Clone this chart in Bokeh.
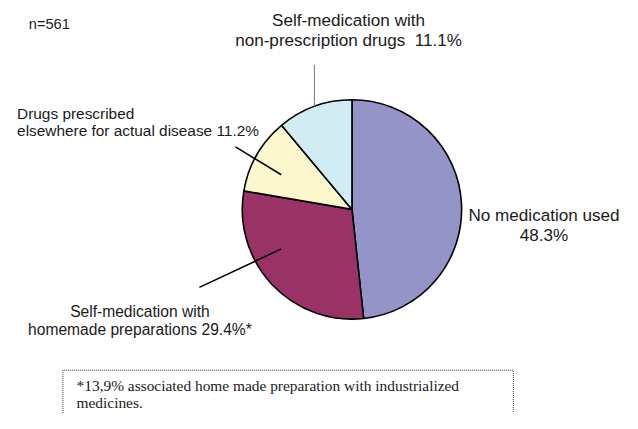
import numpy as np
from bokeh.plotting import figure
from bokeh.models import Range1d
from bokeh.core.properties import value
from bokeh.embed import file_html
from bokeh.resources import INLINE

# ---- data ----
categories = ["No medication used", "Self-medication with homemade preparations",
              "Drugs prescribed elsewhere for actual disease",
              "Self-medication with non-prescription drugs"]
shares = [48.3, 29.4, 11.2, 11.1]
colors = ["#9494C8", "#993366", "#FAF8CC", "#D2ECF4"]
sample_note = "n=561"
footnote_lines = ["*13,9% associated home made preparation with industrialized", "medicines."]

W, H = 622, 413
REF_W, REF_H = 638, 429
S = W / REF_W  # font scale

def Y(y_ref):
    return REF_H - y_ref

p = figure(width=W, height=H, output_backend="svg", toolbar_location=None,
           x_range=Range1d(0, REF_W), y_range=Range1d(0, REF_H), min_border=0)
p.axis.visible = False
p.grid.visible = False
p.outline_line_color = None
p.background_fill_color = "white"

# pie wedges (clockwise from 12 o'clock)
vals = np.array(shares, dtype=float)
frac = vals / vals.sum()
cum = np.concatenate([[0.0], np.cumsum(frac)])
start = np.pi / 2 - cum[:-1] * 2 * np.pi
end = np.pi / 2 - cum[1:] * 2 * np.pi
cx, cy, r = 360.5, Y(217), 112.5
p.wedge(x=cx, y=cy, radius=r, start_angle=start, end_angle=end, direction="clock",
        fill_color=colors, line_color="black", line_width=1.6)

# leader lines
p.line([322, 322], [Y(67), Y(110)], line_color="#777777", line_width=1)
p.line([241, 288], [Y(152), Y(181)], line_color="black", line_width=1.6)
p.line([204, 288], [Y(298), Y(258)], line_color="black", line_width=1.6)

font = value("Liberation Sans")
tc = "#1a1a1a"

def txt(x, y, s, align="center", size=17.5, f=font):
    p.text(x=[x], y=[Y(y)], text=[s], text_font=f, text_font_size=f"{size * S:.1f}px",
           text_align=align, text_baseline="middle", text_color=tc)

txt(29, 24, sample_note, align="left", size=15)
txt(357, 21, "Self-medication with")
txt(357, 42, "non-prescription drugs\u00a0 " + f"{shares[3]}%")
txt(17, 117, "Drugs prescribed", align="left", size=15.8)
txt(17, 135, "elsewhere for actual disease " + f"{shares[2]}%", align="left", size=15.8)
txt(143, 323, "Self-medication with", size=16)
txt(143, 342, "homemade preparations " + f"{shares[1]}%*", size=16)
txt(557.5, 223, categories[0])
txt(557.5, 244, f"{shares[0]}%")

# footnote box
p.line([64, 64, 526, 526], [Y(445), Y(384), Y(384), Y(445)], line_color="#333333",
       line_width=1, line_dash="1 1")
serif = value("Liberation Serif")
txt(78, 400, footnote_lines[0], align="left", size=15.8, f=serif)
txt(78, 418, footnote_lines[1], align="left", size=15.8, f=serif)

open("out.html", "w").write(file_html(p, INLINE))
